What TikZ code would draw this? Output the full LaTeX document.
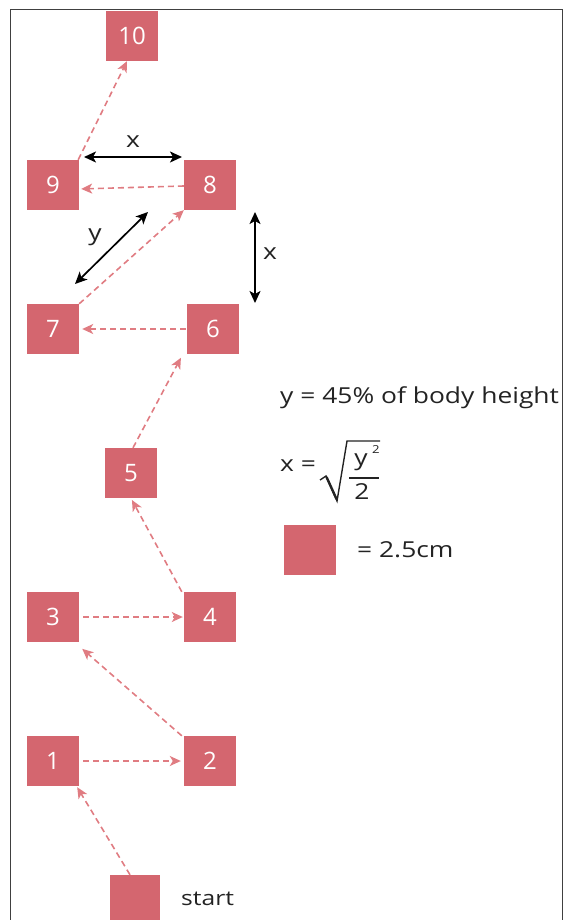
\documentclass[tikz,border=0pt]{standalone}
\usepackage{fontspec}
\setmainfont{Open Sans}
\newfontfamily\lblfont[FakeStretch=1.2]{Open Sans}
\usetikzlibrary{arrows.meta}
\definecolor{boxred}{RGB}{212,102,111}
\definecolor{linkred}{RGB}{224,124,130}
\definecolor{inkgray}{RGB}{35,35,35}
\begin{document}
\begin{tikzpicture}[x=1pt,y=-1pt,
  sq/.style={fill=boxred, minimum width=52pt, minimum height=50pt, inner sep=0pt, text=white, font=\fontsize{24}{24}\selectfont},
  link/.style={draw=linkred, dash pattern=on 6pt off 4pt, line width=1.6pt, -{Stealth[length=11pt,width=10pt,inset=3pt]}},
  meas/.style={draw=black, line width=1.7pt, {Stealth[length=12pt,width=11pt,inset=3pt]}-{Stealth[length=12pt,width=11pt,inset=3pt]}},
  lbl/.style={font=\lblfont\fontsize{22}{26}\selectfont, text=inkgray, inner sep=0pt},
  small/.style={font=\lblfont\fontsize{11}{11}\selectfont, text=inkgray, inner sep=0pt},
  mathline/.style={draw=inkgray, line width=1.4pt}
]
\clip (0,0) rectangle (564,920);
\draw[line width=1pt, black!75] (10,930) -- (10,10) -- (562,10) -- (562,930);
% squares
\node[sq] (n10) at (132,36) {10};
\node[sq] (n9) at (53,185) {9};
\node[sq] (n8) at (210,185) {8};
\node[sq] (n7) at (53,329) {7};
\node[sq] (n6) at (213,329) {6};
\node[sq] (n5) at (131,473) {5};
\node[sq] (n4) at (210,617) {4};
\node[sq] (n3) at (53,617) {3};
\node[sq] (n2) at (210,761) {2};
\node[sq] (n1) at (53,761) {1};
\node[sq, minimum width=50pt] (s) at (135,900) {};
\node[lbl, anchor=west, font=\lblfont\fontsize{20.5}{24}\selectfont] (st) at (181,899) {start};
% path links
\draw[link] ([xshift=-5pt]s.north) -- ([xshift=-2pt,yshift=-1pt]n1.south east);
\draw[link, shorten <=4pt, shorten >=3pt] (n1.east) -- (n2.west);
\draw[link, shorten >=4pt] ([xshift=-2pt]n2.north west) -- ([yshift=-4pt]n3.south east);
\draw[link, shorten <=4pt, shorten >=1pt] (n3.east) -- (n4.west);
\draw[link, shorten >=2pt] ([xshift=-2pt]n4.north west) -- (n5.south);
\draw[link, shorten >=4pt] ([xshift=2pt]n5.north) -- ([xshift=-4pt]n6.south west);
\draw[link, shorten <=1pt, shorten >=3pt] (n6.west) -- (n7.east);
\draw[link] (n7.north east) -- (n8.south west);
\draw[link, shorten >=2pt] ([yshift=-1pt]n8.west) -- ([yshift=-4pt]n9.east);
\draw[link] ([xshift=-1pt]n9.north east) -- ([xshift=-5pt]n10.south);
% measurement arrows
\coordinate (hxa) at (84,157);
\coordinate (hxb) at (182,157);
\coordinate (dya) at (75,284);
\coordinate (dyb) at (148,212);
\coordinate (vxa) at (255,212);
\coordinate (vxb) at (255,303);
\draw[meas] (hxa) -- (hxb);
\draw[meas] (dya) -- (dyb);
\draw[meas] (vxa) -- (vxb);
\node[lbl] (lhx) at (133,142) {x};
\node[lbl] (ldy) at (95,237) {y};
\node[lbl] (lvx) at (270,254) {x};
% legend
\node[lbl, anchor=west] (l1) at (280,398) {y = 45\% of body height};
\node[lbl, anchor=west] (l2) at (280,466) {x =};
\draw[mathline] (320,480) -- (326,476) -- (337,501) -- (347,441) -- (380,441);
\draw[mathline, line width=2.4pt] (326.5,477) -- (336.5,499);
\node[lbl] (fy) at (361,462) {y};
\node[small] (fsq) at (376,450) {2};
\draw[mathline, line width=1.2pt] (349,478) -- (379,478);
\node[lbl] (fd) at (362,492) {2};
\node[sq] (lg) at (310,550) {};
\node[lbl, anchor=west] (l3) at (357,550) {= 2.5cm};
\end{tikzpicture}
\end{document}
